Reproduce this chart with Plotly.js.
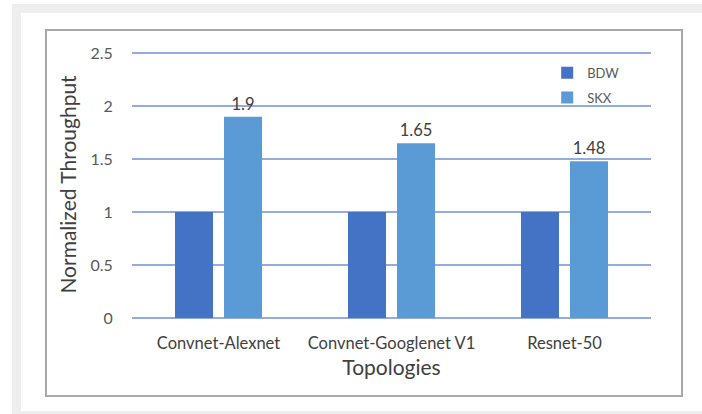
<!DOCTYPE html>
<html>
<head>
<meta charset="utf-8">
<script src="https://cdn.plot.ly/plotly-3.0.1.min.js"></script>
<style>
  body { margin: 0; background: #ffffff; }
  .abs { position: absolute; }
</style>
</head>
<body>
<div class="abs" style="left:12px;top:4px;width:690px;height:410px;background:#eeeeee"></div>
<div class="abs" style="left:21px;top:13px;width:681px;height:398px;background:#ffffff"></div>
<div class="abs" style="left:45px;top:29px;width:634px;height:364px;border:2px solid #a8a8a8"></div>
<div id="chart" class="abs" style="left:0;top:0;width:702px;height:414px"></div>
<script>
const categories = ["Convnet-Alexnet", "Convnet-Googlenet V1", "Resnet-50"];
const bdwValues = [1, 1, 1];
const skxValues = [1.9, 1.65, 1.48];
const skxLabels = ["1.9", "1.65", "1.48"];
const yTicks = [0, 0.5, 1, 1.5, 2, 2.5];
const yTickText = ["0", "0.5", "1", "1.5", "2", "2.5"];

const FONT = "Lato, 'Open Sans', sans-serif";
const GRID = "#93acdd";

const traces = [
  {
    type: "bar", name: "BDW", x: categories, y: bdwValues,
    marker: { color: "#4472c4" }, legendgroup: "a", hoverinfo: "x+y"
  },
  {
    type: "bar", name: "SKX", x: categories, y: skxValues,
    marker: { color: "#5b9bd5" }, legendgroup: "b",
    text: skxLabels, textposition: "outside", cliponaxis: false,
    textfont: { family: FONT, size: 16.5, color: "#404040" }, hoverinfo: "x+y"
  }
];

const layout = {
  width: 702, height: 414,
  margin: { l: 132, r: 51, t: 51, b: 96 },
  paper_bgcolor: "rgba(0,0,0,0)",
  plot_bgcolor: "rgba(0,0,0,0)",
  font: { family: FONT, color: "#595959", size: 13 },
  barmode: "group",
  bargap: 0.4335,
  bargroupgap: 0.224,
  showlegend: true,
  legend: {
    x: 0.80, y: 0.975, xanchor: "left", yanchor: "top",
    font: { family: FONT, size: 13, color: "#595959" },
    bgcolor: "rgba(0,0,0,0)",
    traceorder: "grouped", tracegroupgap: 5
  },
  xaxis: {
    type: "category",
    showgrid: false, showline: false, zeroline: false,
    ticks: "outside", ticklen: 10, tickcolor: "rgba(0,0,0,0)",
    tickfont: { family: FONT, size: 16.5, color: "#404040" },
    title: { text: "Topologies", font: { family: FONT, size: 21, color: "#404040" }, standoff: 8 },
    automargin: false
  },
  yaxis: {
    range: [0, 2.52],
    tickvals: yTicks, ticktext: yTickText,
    showgrid: true, gridcolor: GRID, gridwidth: 1.5,
    zeroline: true, zerolinecolor: GRID, zerolinewidth: 1.5,
    showline: false,
    ticks: "outside", ticklen: 15, tickcolor: "rgba(0,0,0,0)",
    tickfont: { family: FONT, size: 16, color: "#595959" },
    title: { text: "Normalized Throughput", font: { family: FONT, size: 21, color: "#404040" }, standoff: 8 },
    automargin: false
  }
};

Plotly.newPlot("chart", traces, layout, { displayModeBar: false, staticPlot: true });
</script>
</body>
</html>
